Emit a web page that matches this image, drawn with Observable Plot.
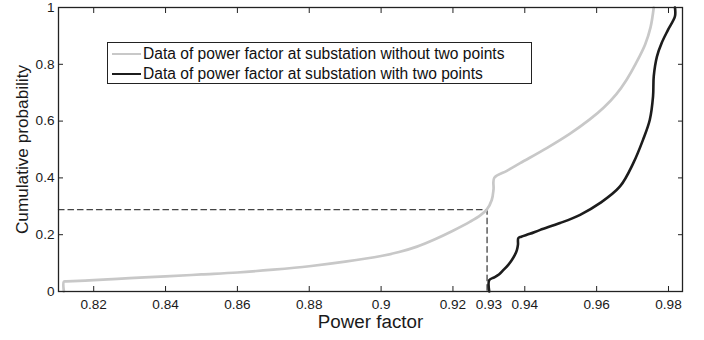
<!DOCTYPE html>
<html>
<head>
<meta charset="utf-8">
<script src="https://cdn.jsdelivr.net/npm/d3@7"></script>
<script src="https://cdn.jsdelivr.net/npm/@observablehq/plot@0.6"></script>
<style>
  html, body { margin: 0; padding: 0; background: #fff; }
  #wrap { position: relative; width: 704px; height: 340px; font-family: "Liberation Sans", Arial, Helvetica, sans-serif; }
  #legend { position: absolute; left: 107px; top: 42px; width: 425px; height: 42px; border: 1.3px solid #222; background: #fff; box-sizing: border-box; }
  .row { position: absolute; left: 0; height: 20px; display: flex; align-items: center; font-size: 15.6px; color: #111; white-space: nowrap; }
  .sw { display: inline-block; width: 29px; height: 0; margin-left: 4px; margin-right: 2px; }
</style>
</head>
<body>
<div id="wrap"></div>
<script>
// ---- data ----
const seriesNames = [
  "Data of power factor at substation without two points",
  "Data of power factor at substation with two points"
];
const seriesColors = ["#c8c8c8", "#1c1c1c"];

const grayX = [0.8117, 0.8117, 0.8125, 0.82, 0.83, 0.84, 0.85, 0.86, 0.87, 0.88, 0.89, 0.90, 0.905, 0.91, 0.915, 0.92, 0.9248, 0.9276, 0.9294, 0.9308, 0.9313, 0.9315, 0.935, 0.9387, 0.9461, 0.9526, 0.9580, 0.9620, 0.9655, 0.9683, 0.9710, 0.9735, 0.9750, 0.9759];
const grayY = [0, 0.035, 0.0355, 0.040, 0.047, 0.053, 0.060, 0.067, 0.077, 0.089, 0.105, 0.125, 0.139, 0.158, 0.184, 0.214, 0.246, 0.268, 0.288, 0.322, 0.36, 0.400, 0.425, 0.452, 0.505, 0.556, 0.605, 0.648, 0.695, 0.745, 0.805, 0.870, 0.930, 1.0];

const blackX = [0.9301, 0.9301, 0.9315, 0.9328, 0.9340, 0.9354, 0.9364, 0.9372, 0.9378, 0.9381, 0.9382, 0.939, 0.9414, 0.9443, 0.9498, 0.9554, 0.9609, 0.9665, 0.9702, 0.9729, 0.9748, 0.9757, 0.9759, 0.9768, 0.9781, 0.9799, 0.9818, 0.9818];
const blackY = [0, 0.040, 0.050, 0.060, 0.075, 0.094, 0.111, 0.128, 0.146, 0.165, 0.188, 0.193, 0.203, 0.217, 0.241, 0.270, 0.311, 0.370, 0.452, 0.534, 0.605, 0.687, 0.758, 0.828, 0.875, 0.922, 0.969, 1.0];

// dashed reference: power factor 0.9295 at cumulative probability 0.288
const refX = 0.9295;
const refY = 0.288;

const xTicks = [0.82, 0.84, 0.86, 0.88, 0.90, 0.92, 0.93, 0.94, 0.96, 0.98];
const xTickLabels = ["0.82", "0.84", "0.86", "0.88", "0.9", "0.92", "0.93", "0.94", "0.96", "0.98"];
const xTopTicks = [0.82, 0.84, 0.86, 0.88, 0.90, 0.92, 0.94, 0.96, 0.98];
const yTicks = [0, 0.2, 0.4, 0.6, 0.8, 1];
const yTickLabels = ["0", "0.2", "0.4", "0.6", "0.8", "1"];
const xLabel = "Power factor";
const yLabel = "Cumulative probability";

// ---- build ----
const gray = grayX.map((x, i) => ({x, y: grayY[i]}));
const black = blackX.map((x, i) => ({x, y: blackY[i]}));
const xFmt = d => xTickLabels[xTicks.findIndex(t => Math.abs(t - d) < 1e-9)];
const yFmt = d => yTickLabels[yTicks.findIndex(t => Math.abs(t - d) < 1e-9)];
const xDomain = [0.8102, 0.9839];

const chart = Plot.plot({
  width: 704, height: 340,
  marginLeft: 58, marginRight: 22, marginTop: 7, marginBottom: 49,
  style: {fontFamily: "'Liberation Sans', Arial, Helvetica, sans-serif", fontSize: "13.6px", color: "#1a1a1a", background: "#fff", overflow: "visible"},
  x: {domain: xDomain},
  y: {domain: [0, 1]},
  marks: [
    Plot.line([{x: xDomain[0], y: refY}, {x: refX, y: refY}, {x: refX, y: 0}], {x: "x", y: "y", stroke: "#444", strokeWidth: 1.3, strokeDasharray: "5.5,4"}),
    Plot.line(gray, {x: "x", y: "y", stroke: seriesColors[0], strokeWidth: 2.7, curve: "catmull-rom"}),
    Plot.line(black, {x: "x", y: "y", stroke: seriesColors[1], strokeWidth: 2.6, curve: "catmull-rom"}),
    Plot.axisX({anchor: "bottom", ticks: xTicks, tickFormat: xFmt, tickSize: -5, tickPadding: 12.5, label: null, stroke: "#222"}),
    Plot.axisX({anchor: "top", ticks: xTopTicks, tickFormat: () => "", tickSize: -5, label: null, stroke: "#222"}),
    Plot.axisY({anchor: "left", ticks: yTicks, tickFormat: yFmt, tickSize: -5, tickPadding: 9, label: null, stroke: "#222"}),
    Plot.axisY({anchor: "right", ticks: yTicks, tickFormat: () => "", tickSize: -5, label: null, stroke: "#222"}),
    Plot.frame({stroke: "#222", strokeWidth: 1.3}),
    Plot.text([xLabel], {frameAnchor: "bottom", dy: 36, fontSize: 18.8, fill: "#1a1a1a"}),
    Plot.text([yLabel], {frameAnchor: "left", textAnchor: "middle", dx: -36, rotate: -90, fontSize: 17.2, fill: "#1a1a1a"})
  ]
});

const wrap = document.getElementById("wrap");
wrap.appendChild(chart);

const legend = document.createElement("div");
legend.id = "legend";
seriesNames.forEach((name, i) => {
  const row = document.createElement("div");
  row.className = "row";
  row.style.top = (i === 0 ? 1 : 21) + "px";
  const sw = document.createElement("span");
  sw.className = "sw";
  sw.style.borderTop = "2.6px solid " + seriesColors[i];
  row.appendChild(sw);
  const t = document.createElement("span");
  t.textContent = name;
  row.appendChild(t);
  legend.appendChild(row);
});
wrap.appendChild(legend);
</script>
</body>
</html>
